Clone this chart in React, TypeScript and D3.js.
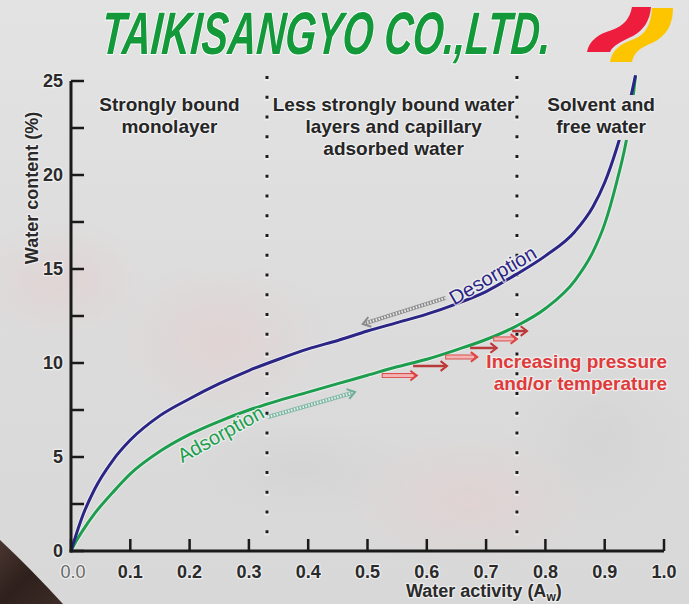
import React from "react";
import * as d3 from "d3";

// ---------- data ----------
const awTicks = [0, 0.1, 0.2, 0.3, 0.4, 0.5, 0.6, 0.7, 0.8, 0.9, 1.0];
const awTickLabels = ["0.0", "0.1", "0.2", "0.3", "0.4", "0.5", "0.6", "0.7", "0.8", "0.9", "1.0"];
const wcMinorTicks = [0, 2.5, 5, 7.5, 10, 12.5, 15, 17.5, 20, 22.5, 25];
const wcTickLabels = [0, 5, 10, 15, 20, 25];

const desorptionAw = [0, 0.01, 0.02, 0.04, 0.07, 0.1, 0.15, 0.2, 0.25, 0.3, 0.35, 0.4, 0.45, 0.5, 0.55, 0.6, 0.65, 0.7, 0.75, 0.8, 0.85, 0.88, 0.9, 0.92, 0.94, 0.952];
const desorptionWc = [0, 1.0, 1.9, 3.3, 4.8, 5.9, 7.2, 8.1, 8.9, 9.6, 10.2, 10.75, 11.2, 11.7, 12.15, 12.6, 13.15, 13.8, 14.7, 15.7, 17.0, 18.3, 19.6, 21.4, 23.6, 25.3];

const adsorptionAw = [0, 0.01, 0.02, 0.04, 0.07, 0.1, 0.15, 0.2, 0.25, 0.3, 0.35, 0.4, 0.45, 0.5, 0.55, 0.6, 0.65, 0.7, 0.75, 0.8, 0.85, 0.88, 0.9, 0.92, 0.935, 0.945, 0.952];
const adsorptionWc = [0, 0.6, 1.1, 2.0, 3.1, 4.1, 5.3, 6.2, 6.9, 7.5, 8.0, 8.45, 8.9, 9.35, 9.8, 10.2, 10.7, 11.25, 11.95, 12.9, 14.4, 15.9, 17.4, 19.6, 21.6, 23.4, 25.3];

const regionBoundaries = [0.3305, 0.752];

const regionLabelLines = [
  ["Strongly bound", "monolayer"],
  ["Less strongly bound water", "layers and capillary", "adsorbed water"],
  ["Solvent and", "free water"],
];
const regionLabelAw = [0.166, 0.544, 0.894];
const regionLabelTopWc = 23.4;

// pressure / temperature arrows
const pressureArrowStart = [0.524, 0.577, 0.631, 0.673, 0.712, 0.744];
const pressureArrowEnd = [0.583, 0.634, 0.685, 0.718, 0.752, 0.769];
const pressureArrowWc = [9.33, 9.84, 10.32, 10.8, 11.28, 11.7];
const pressureArrowDark = [false, true, false, true, false, true];

const W = 689;
const H = 604;

const FONT = "'Liberation Sans', Arial, Helvetica, sans-serif";

export default function App() {
  const x = d3.scaleLinear().domain([0, 1]).range([71, 664]);
  const y = d3.scaleLinear().domain([0, 25]).range([551, 81]);

  const line = d3
    .line<[number, number]>()
    .x((d) => x(d[0]))
    .y((d) => y(d[1]))
    .curve(d3.curveMonotoneX);

  const desPath = line(desorptionAw.map((a, i) => [a, desorptionWc[i]]) as [number, number][]) || "";
  const adsPath = line(adsorptionAw.map((a, i) => [a, adsorptionWc[i]]) as [number, number][]) || "";

  const halo = { stroke: "#f3f3f3", strokeWidth: 2.5, strokeOpacity: 0.75, paintOrder: "stroke" as const, strokeLinejoin: "round" as const };

  const chevron = (tx: number, ty: number, angle: number, len: number, spread: number) => {
    const a1 = angle + Math.PI - spread;
    const a2 = angle + Math.PI + spread;
    return `M${tx + len * Math.cos(a1)},${ty + len * Math.sin(a1)} L${tx},${ty} L${tx + len * Math.cos(a2)},${ty + len * Math.sin(a2)}`;
  };

  const desA = { x1: x(0.632), y1: y(13.46), x2: x(0.492), y2: y(12.07) };
  const adsA = { x1: x(0.332), y1: y(7.13), x2: x(0.479), y2: y(8.46) };

  return (
    <svg
      width={W}
      height={H}
      viewBox={`0 0 ${W} ${H}`}
      style={{ position: "absolute", left: 0, top: 0, display: "block" }}
      fontFamily={FONT}
    >
      <defs>
        <linearGradient id="bg" x1="0" y1="0" x2="0" y2="1">
          <stop offset="0" stopColor="#e3e3e3" />
          <stop offset="0.5" stopColor="#dcdcdc" />
          <stop offset="1" stopColor="#d8d8d8" />
        </linearGradient>
        <radialGradient id="pink1">
          <stop offset="0" stopColor="#e6cccc" stopOpacity="0.5" />
          <stop offset="1" stopColor="#e6cccc" stopOpacity="0" />
        </radialGradient>
        <radialGradient id="gray1">
          <stop offset="0" stopColor="#cfcfcf" stopOpacity="0.5" />
          <stop offset="1" stopColor="#cfcfcf" stopOpacity="0" />
        </radialGradient>
        <linearGradient id="wood" x1="0" y1="0" x2="1" y2="1">
          <stop offset="0" stopColor="#4a3630" />
          <stop offset="0.5" stopColor="#2e201c" />
          <stop offset="1" stopColor="#3d2c27" />
        </linearGradient>
      </defs>

      {/* background */}
      <rect x={0} y={0} width={W} height={H} fill="url(#bg)" />
      <ellipse cx={60} cy={280} rx={90} ry={60} fill="url(#pink1)" />
      <ellipse cx={220} cy={340} rx={110} ry={80} fill="url(#pink1)" />
      <ellipse cx={470} cy={500} rx={130} ry={70} fill="url(#pink1)" />
      <ellipse cx={600} cy={440} rx={90} ry={90} fill="url(#gray1)" />
      <ellipse cx={300} cy={470} rx={120} ry={50} fill="url(#gray1)" />
      <path d={`M0,540 Q30,568 63,604 L0,604 Z`} fill="url(#wood)" />

      {/* logo */}
      <text
        transform="translate(100,54) scale(0.66,1) skewX(-7)"
        fontSize={60}
        fontWeight={900}
        fontStyle="italic"
        fill="#14993a"
        stroke="#ffffff"
        strokeWidth={2}
        paintOrder="stroke"
      >
        TAIKISANGYO CO.,LTD.
      </text>
      <path
        d="M587,52 C589,41 598,34 612,30 C624,26 630,18 632,7 L651,7 C650,20 644,30 633,36 C621,42 613,45 610,52 Z"
        fill="#ee1c3d"
      />
      <path
        d="M610,62 C612,50 620,44 634,39 C645,35 651,25 652,8 L673,8 C673,24 667,36 652,43 C640,48 634,52 632,62 Z"
        fill="#fcc500"
      />

      {/* region boundaries (dotted) */}
      {regionBoundaries.map((b, i) => (
        <g key={"rb" + i}>
          <line x1={x(b)} x2={x(b)} y1={y(25) - 4} y2={y(0)} stroke="#f2f2f2" strokeWidth={5} strokeDasharray="5,14.75" strokeDashoffset={1} strokeOpacity={0.7} />
          <line x1={x(b)} x2={x(b)} y1={y(25) - 5} y2={y(0)} stroke="#1c1c1c" strokeWidth={3} strokeDasharray="3,16.75" />
        </g>
      ))}

      {/* curves */}
      <path d={adsPath} fill="none" stroke="#f0f0f0" strokeOpacity={0.8} strokeWidth={5} />
      <path d={desPath} fill="none" stroke="#f0f0f0" strokeOpacity={0.8} strokeWidth={5} />
      <path d={adsPath} fill="none" stroke="#1d9e4e" strokeWidth={3} />
      <path d={desPath} fill="none" stroke="#2b2585" strokeWidth={3} />

      {/* label box hiding curves behind "Solvent and free water" */}
      <rect x={546} y={95} width={113} height={45} fill="#e0e0e0" />

      {/* axes */}
      <line x1={x(0)} x2={x(0)} y1={y(25)} y2={y(0) + 1.5} stroke="#1a1a1a" strokeWidth={3} />
      <line x1={x(0) - 1.5} x2={x(1)} y1={y(0)} y2={y(0)} stroke="#1a1a1a" strokeWidth={3} />
      {wcMinorTicks.map((t) => (
        <line key={"yt" + t} x1={x(0)} x2={x(0) + 13} y1={y(t)} y2={y(t)} stroke="#1a1a1a" strokeWidth={2.5} />
      ))}
      {awTicks.map((t) => (
        <line key={"xt" + t} x1={x(t)} x2={x(t)} y1={y(0)} y2={y(0) - 12} stroke="#1a1a1a" strokeWidth={2.5} />
      ))}

      {/* tick labels */}
      {wcTickLabels.map((t) => (
        <text key={"yl" + t} x={63} y={y(t)} dy="0.36em" textAnchor="end" fontSize={18} fontWeight="bold" fill="#2a2a2a" {...halo}>
          {t}
        </text>
      ))}
      {awTicks.map((t, i) => (
        <text
          key={"xl" + t}
          x={x(t) + (i === 0 ? 2 : 0)}
          y={578}
          textAnchor="middle"
          fontSize={18}
          fontWeight={i === 0 ? "normal" : "bold"}
          fill={i === 0 ? "#6a6a6a" : "#2a2a2a"}
          {...halo}
        >
          {awTickLabels[i]}
        </text>
      ))}

      {/* axis titles */}
      <text x={406} y={597} fontSize={18} fontWeight="bold" fill="#2a2a2a" {...halo}>
        Water activity (A
        <tspan fontSize={12} dy={4}>w</tspan>
        <tspan dy={-4}>)</tspan>
      </text>
      <text transform="translate(38,188) rotate(-90)" textAnchor="middle" fontSize={18} fontWeight="bold" fill="#2a2a2a" {...halo}>
        Water content (%)
      </text>

      {/* region labels */}
      {regionLabelLines.map((lines, i) => (
        <text key={"rl" + i} textAnchor="middle" fontSize={19} fontWeight="bold" fill="#262626" {...halo}>
          {lines.map((l, j) => (
            <tspan key={j} x={x(regionLabelAw[i])} y={y(regionLabelTopWc) + j * 22}>
              {l}
            </tspan>
          ))}
        </text>
      ))}

      {/* desorption arrow (hatched gray) */}
      <g>
        <line x1={desA.x1} y1={desA.y1} x2={desA.x2 + 3} y2={desA.y2 - 1} stroke="#8a8a8a" strokeWidth={4} />
        <line x1={desA.x1} y1={desA.y1} x2={desA.x2 + 3} y2={desA.y2 - 1} stroke="#e8e8e8" strokeWidth={2.5} strokeDasharray="1.5,1.5" />
        <path d={chevron(desA.x2, desA.y2, Math.atan2(desA.y2 - desA.y1, desA.x2 - desA.x1), 9, 0.6)} fill="none" stroke="#8a8a8a" strokeWidth={2} />
      </g>
      {/* adsorption arrow (hatched green) */}
      <g>
        <line x1={adsA.x1} y1={adsA.y1} x2={adsA.x2 - 3} y2={adsA.y2 + 1} stroke="#7fb7a6" strokeWidth={4} />
        <line x1={adsA.x1} y1={adsA.y1} x2={adsA.x2 - 3} y2={adsA.y2 + 1} stroke="#e6eeea" strokeWidth={2.5} strokeDasharray="1.5,1.5" />
        <path d={chevron(adsA.x2, adsA.y2, Math.atan2(adsA.y2 - adsA.y1, adsA.x2 - adsA.x1), 9, 0.6)} fill="none" stroke="#6fae9a" strokeWidth={2} />
      </g>

      {/* curve labels */}
      <text transform={`translate(${x(0.717)},${y(14.35)}) rotate(-30)`} textAnchor="middle" fontSize={20} fill="#2b2585" {...halo}>
        Desorption
      </text>
      <text transform={`translate(${x(0.258)},${y(5.9)}) rotate(-29)`} textAnchor="middle" fontSize={20} fill="#1d9e4e" {...halo}>
        Adsorption
      </text>

      {/* pressure / temperature arrows */}
      {pressureArrowStart.map((s, i) => {
        const x1 = x(s);
        const x2 = x(pressureArrowEnd[i]);
        const yy = y(pressureArrowWc[i]);
        const dark = pressureArrowDark[i];
        return (
          <g key={"pa" + i}>
            {dark ? (
              <line x1={x1} x2={x2 - 2} y1={yy} y2={yy} stroke="#b83a3a" strokeWidth={2.5} />
            ) : (
              <>
                <line x1={x1} x2={x2 - 2} y1={yy} y2={yy} stroke="#d9504f" strokeWidth={5} />
                <line x1={x1 + 1} x2={x2 - 3} y1={yy} y2={yy} stroke="#f5b3b3" strokeWidth={3} />
              </>
            )}
            <path d={chevron(x2, yy, 0, 8, 0.65)} fill="none" stroke={dark ? "#c03333" : "#e0403f"} strokeWidth={2} />
          </g>
        );
      })}
      <text textAnchor="end" fontSize={19} fontWeight="bold" fill="#e03a3a" {...halo}>
        <tspan x={x(1.005)} y={y(9.73)}>Increasing pressure</tspan>
        <tspan x={x(1.005)} y={y(9.73) + 22}>and/or temperature</tspan>
      </text>
    </svg>
  );
}
